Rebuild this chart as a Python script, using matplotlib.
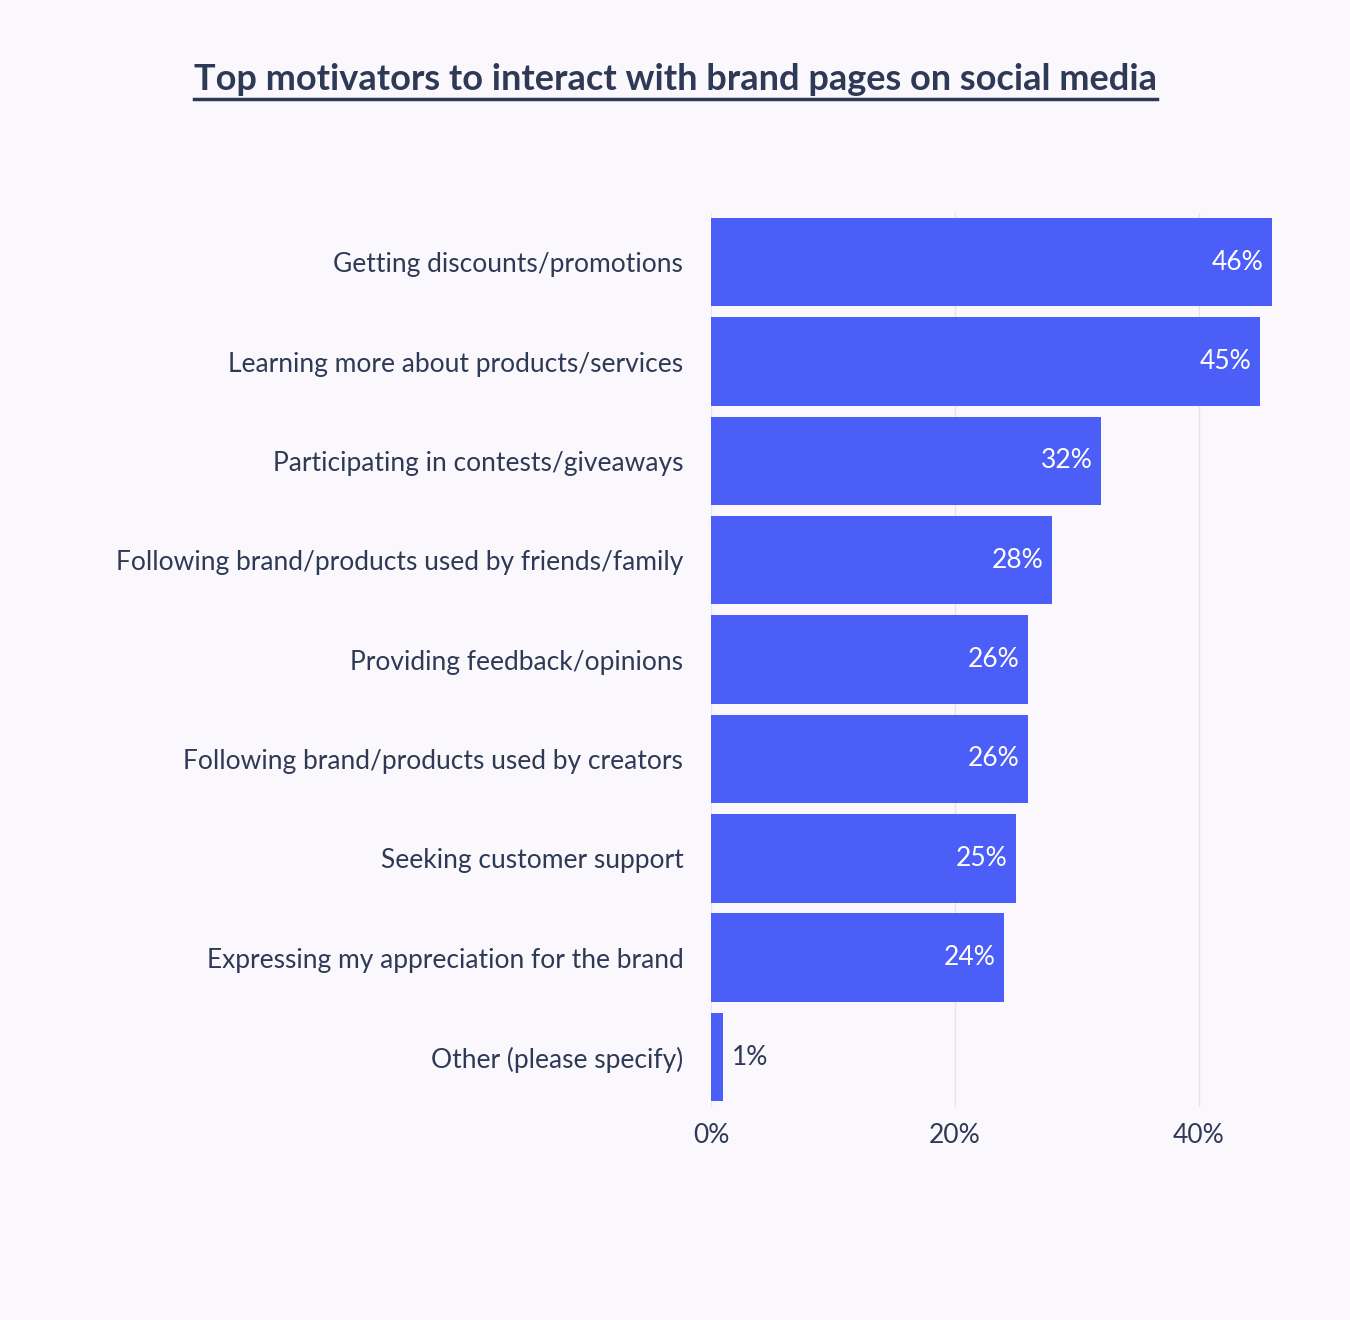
import matplotlib
matplotlib.use("Agg")
import matplotlib.pyplot as plt

categories = ["Getting discounts/promotions", "Learning more about products/services",
              "Participating in contests/giveaways", "Following brand/products used by friends/family",
              "Providing feedback/opinions", "Following brand/products used by creators",
              "Seeking customer support", "Expressing my appreciation for the brand",
              "Other (please specify)"]
values = [46, 45, 32, 28, 26, 26, 25, 24, 1]
xticks = [0, 20, 40]
xticklabels = ["0%", "20%", "40%"]

bg = "#fbf8fd"
bar_c = "#4b5ef7"
txt = "#2e3a55"
font = "Lato"

fig = plt.figure(figsize=(13.5, 13.2), dpi=100, facecolor=bg)
ax = fig.add_axes([0.5267, 0.1616, 0.9422 - 0.5267, 0.839 - 0.1616], facecolor=bg)
y = list(range(len(categories)))
ax.barh(y, values, height=0.89, color=bar_c, zorder=2)
ax.set_ylim(len(categories) - 0.5, -0.5)
ax.set_xlim(0, 46)
ax.set_yticks(y)
ax.set_yticklabels(categories, fontsize=19, color=txt, fontfamily=font)
ax.set_xticks(xticks)
ax.set_xticklabels(xticklabels, fontsize=19, color=txt, fontfamily=font)
ax.tick_params(length=0, pad=20)
ax.tick_params(axis="x", pad=12)
for s in ax.spines.values():
    s.set_visible(False)
ax.grid(axis="x", color="#e6e3ea", lw=1, zorder=0)
for yi, v in zip(y, values):
    if v > 5:
        ax.text(v - 0.7, yi, f"{v}%", ha="right", va="center", color="white", fontsize=19, fontfamily=font, zorder=3)
    else:
        ax.text(v + 0.7, yi, f"{v}%", ha="left", va="center", color=txt, fontsize=19, fontfamily=font, zorder=3)

t = fig.text(0.5, 0.94, "Top motivators to interact with brand pages on social media", ha="center", va="center",
             fontsize=26, fontweight="bold", color=txt, fontfamily=font)
fig.canvas.draw()
bb = t.get_window_extent()
fig.add_artist(plt.Line2D([bb.x0 / fig.bbox.width, bb.x1 / fig.bbox.width],
                          [(bb.y0 - 3) / fig.bbox.height] * 2, color=txt, lw=2.5))
fig.savefig("out.png", facecolor=bg)
